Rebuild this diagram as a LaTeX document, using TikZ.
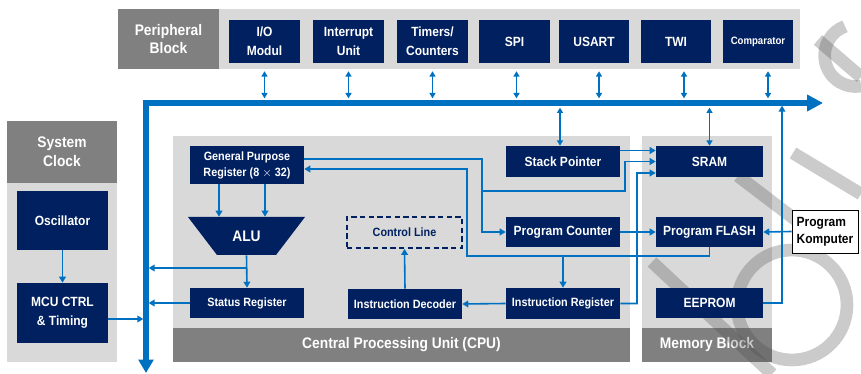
\documentclass[tikz,border=0pt]{standalone}
\usepackage{fontspec}
\newfontfamily\nar{Liberation Sans}[FakeStretch=0.9]
\usetikzlibrary{arrows.meta,calc}
\definecolor{navy}{HTML}{002060}
\definecolor{lblue}{HTML}{0070C0}
\definecolor{lgray}{HTML}{D9D9D9}
\definecolor{dgray}{HTML}{808080}
\definecolor{wmark}{HTML}{4C4C4C}
\newcommand\bx[7][]{\node[#1,minimum width={(#5-#3)*0.75pt},minimum height={(#6-#4)*0.75pt}] (#2) at ({(#3+#5)/2},{(#4+#6)/2}) {#7};}
\begin{document}
\begin{tikzpicture}[x=0.75pt,y=-0.75pt,
 nbox/.style={fill=navy,text=white,inner sep=0pt,align=center,font=\nar\bfseries\fontsize{10}{14}\selectfont},
 smallf/.style={font=\nar\bfseries\fontsize{9}{12}\selectfont},
 hdr/.style={fill=dgray,text=white,inner sep=0pt,align=center,font=\nar\bfseries\fontsize{11.5}{14}\selectfont},
 arr/.style={draw=lblue,line width=1.2pt,-{Triangle[width=5pt,length=4.5pt]}},
 biarr/.style={draw=lblue,line width=1.1pt,{Triangle[width=4.5pt,length=4pt]}-{Triangle[width=4.5pt,length=4pt]}},
 wm/.style={draw=wmark,draw opacity=0.29,line width=9.5pt}
]
\useasboundingbox (0,0) rectangle (861,374);
% panels
\fill[lgray] (118,9) rectangle (800,69);
\fill[lgray] (7,183) rectangle (117,362);
\fill[lgray] (173,136) rectangle (630,328);
\fill[lgray] (642,136) rectangle (772,328);
\bx[hdr]{pb}{118}{9}{219}{69}{Peripheral\\Block}
\bx[hdr]{sc}{7}{121}{117}{183}{System\\Clock}
\bx[hdr]{cpu}{173}{328}{630}{362}{Central Processing Unit (CPU)}
\bx[hdr]{mem}{642}{328}{772}{362}{Memory Block}
% watermark (semi-transparent logo fragments)
\draw[wm] (818,40) -- (861,77);
\draw[wm] (861,86) arc[start angle=80,end angle=250,radius=31];
\draw[wm] (793,153) -- (861,194);
\draw[wm] (738,176) -- (830,246);
\draw[wm] (792,305) circle[radius=55];
\draw[wm] (652,262) -- (772,374);
% peripheral block
\bx[nbox]{io}{229}{20}{300}{63}{I/O\\Modul}
\bx[nbox]{intr}{313}{20}{384}{63}{Interrupt\\Unit}
\bx[nbox]{tim}{397}{20}{468}{63}{Timers/\\Counters}
\bx[nbox]{spi}{479}{20}{550}{63}{SPI}
\bx[nbox]{usart}{559}{20}{629}{63}{USART}
\bx[nbox]{twi}{641}{20}{711}{63}{TWI}
\bx[nbox,font=\nar\bfseries\fontsize{8}{10}\selectfont]{comp}{723}{20}{793}{63}{Comparator}
% system clock
\bx[nbox]{osc}{17}{191}{108}{250}{Oscillator}
\bx[nbox]{mcu}{17}{283}{108}{343}{MCU CTRL\\\& Timing}
% CPU
\bx[nbox,smallf]{gpr}{190}{146}{304}{184}{General Purpose\\Register (8 $\times$ 32)}
\fill[navy] (188,217) -- (305,217) -- (276,255) -- (217,255) -- cycle;
\bx[inner sep=0pt,text=white,font=\nar\bfseries\fontsize{11.5}{14}\selectfont]{alu}{188}{217}{305}{255}{ALU}
\bx[nbox,smallf]{status}{190}{288}{304}{318}{Status Register}
\bx[inner sep=0pt,draw=navy,line width=1.3pt,dash pattern=on 4pt off 2.5pt,text=navy,font=\nar\bfseries\fontsize{9}{11.5}\selectfont]{cl}{347}{217}{462}{248}{Control Line}
\bx[nbox,smallf]{dec}{348}{289}{462}{319}{Instruction Decoder}
\bx[nbox]{sp}{506}{146}{620}{177}{Stack Pointer}
\bx[nbox]{pc}{506}{217}{620}{247}{Program Counter}
\bx[nbox,smallf]{ir}{506}{288}{620}{319}{Instruction Register}
% memory
\bx[nbox]{sram}{656}{146}{763}{177}{SRAM}
\bx[nbox]{flash}{656}{217}{763}{247}{Program FLASH}
\bx[nbox]{eeprom}{656}{288}{763}{318}{EEPROM}
\bx[inner sep=0pt,draw=black,line width=0.6pt,fill=white,align=left,font=\nar\bfseries\fontsize{10}{13}\selectfont]{pk}{792}{210}{858}{253}{Program\\Komputer}
% bus
\coordinate (bh) at (146,103);
\coordinate (bend) at (823,103);
\coordinate (bbot) at (146,373);
\draw[lblue,line width=3.8pt,{Triangle[width=12pt,length=12pt]}-{Triangle[width=11pt,length=10pt]}] (bend) -- (bh) -- (bbot);
% peripheral arrows
\foreach \n/\dx in {io/0,intr/0,tim/0,spi/2,usart/5,twi/8,comp/10}
  \draw[biarr,shorten <=6pt,shorten >=3.5pt] ([xshift=\dx*0.75pt]\n.south) -- ([xshift=\dx*0.75pt]\n.south |- bh);
\draw[biarr,shorten <=3.5pt] ([xshift=-2.25pt]sp.north |- bh) -- ([xshift=-2.25pt]sp.north);
\draw[biarr,shorten <=3.5pt] (sram.north |- bh) -- (sram.north);
% clock
\draw[arr] (osc) -- (mcu);
\draw[arr,shorten >=2pt] ([yshift=-4.5pt]mcu.east) -- ([yshift=-4.5pt]mcu.east -| bh);
% ALU
\draw[arr] ([xshift=-21pt]gpr.south) -- ([xshift=-21pt]gpr.south |- alu.north);
\draw[arr] ([xshift=13.5pt]gpr.south) -- ([xshift=13.5pt]gpr.south |- alu.north);
\draw[arr] (alu.south) -- (status.north);
\coordinate (a1) at (247,268);
\draw[arr,shorten >=2pt] (a1) -- (a1 -| bh);
\draw[arr,shorten >=2pt] (status.west) -- (status.west -| bh);
% control
\draw[arr] (dec.north) -- (cl.south);
\draw[arr] (ir.west) -- (dec.east);
% SP -> SRAM
\draw[arr] ([yshift=8.25pt]sp.east) -- ([yshift=8.25pt]sram.west);
% GPR -> PC, branch to SRAM
\coordinate (j1) at (482,191);
\coordinate (j2) at (625,191);
\draw[arr] ([yshift=4.5pt]gpr.east) -| (j1) |- (pc.west);
\draw[arr] (j1) -- (j2) |- (sram.west);
% FLASH -> GPR, branch to IR
\coordinate (k1) at (467,256);
\draw[arr] (flash.south) |- (k1) |- ([yshift=-3pt]gpr.east);
\draw[arr] (ir.north |- k1) -- (ir.north);
% IR -> SRAM
\coordinate (m1) at (637,173);
\draw[arr] (ir.east) -| (m1) -- ([yshift=-8.6pt]sram.west);
% PC -> FLASH
\draw[arr] (pc.east) -- (flash.west);
% EEPROM -> bus
\coordinate (e1) at (782,103);
\draw[arr,shorten >=2pt] (eeprom.east) -| (e1);
% Program Komputer -> FLASH
\draw[arr] (pk.west) -- (flash.east);
\end{tikzpicture}
\end{document}
